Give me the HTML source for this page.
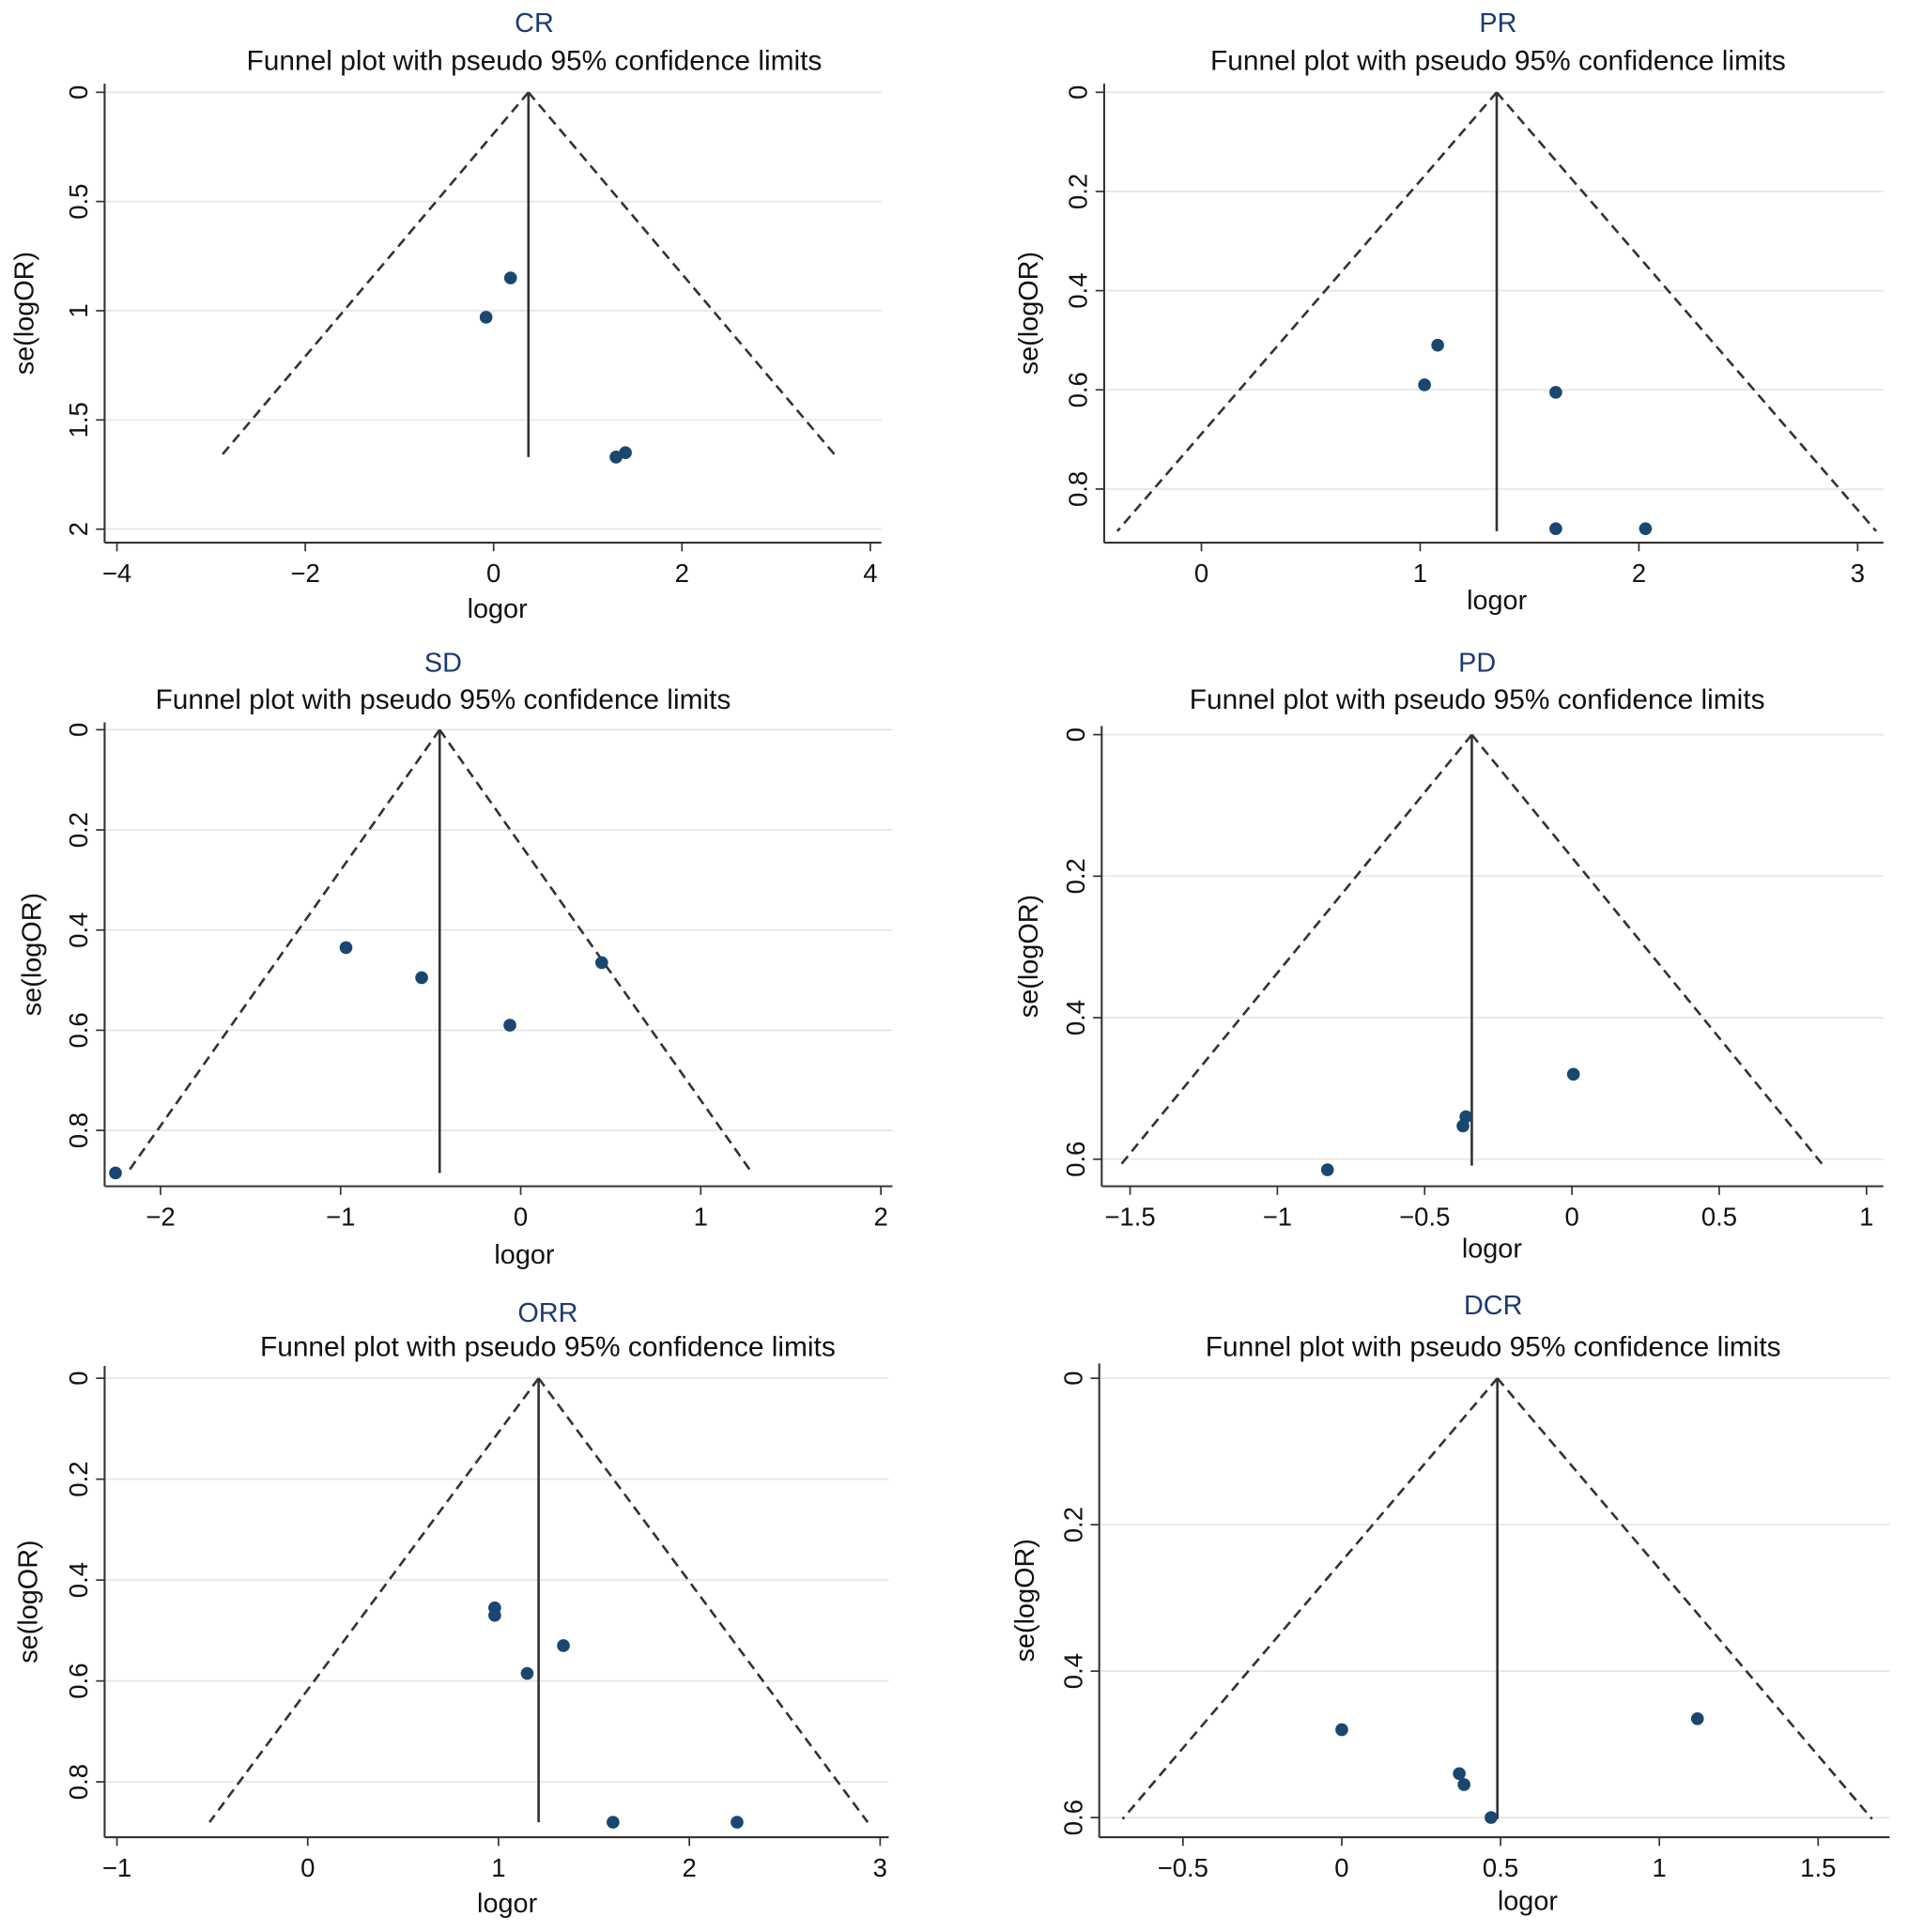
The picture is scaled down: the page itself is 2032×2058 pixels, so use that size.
<!DOCTYPE html>
<html><head><meta charset="utf-8"><style>
html,body{margin:0;padding:0;background:#fff;width:2032px;height:2058px;overflow:hidden}
svg{display:block}
text{font-family:"Liberation Sans",Arial,sans-serif;fill:#111}
</style></head><body>
<svg id="chart" width="2032" height="2058" viewBox="0 0 1550 1570" preserveAspectRatio="none" xmlns="http://www.w3.org/2000/svg"></svg>
<script>
// ---- data ----
const crLogor=[0.18,-0.08,1.30,1.40];
const crSe=[0.85,1.03,1.67,1.65];
const crCenter=0.37, crSeMax=1.67;
const crXTicks=[-4,-2,0,2,4], crYTicks=[0,0.5,1,1.5,2];
const crYLabels=["0","0.5","1","1.5","2"];

const prLogor=[1.08,1.02,1.62,1.62,2.03];
const prSe=[0.51,0.59,0.605,0.88,0.88];
const prCenter=1.35, prSeMax=0.885;
const prXTicks=[0,1,2,3], prYTicks=[0,0.2,0.4,0.6,0.8];
const prYLabels=["0","0.2","0.4","0.6","0.8"];

const sdLogor=[-2.25,-0.97,-0.55,0.45,-0.06];
const sdSe=[0.885,0.435,0.495,0.465,0.59];
const sdCenter=-0.45, sdSeMax=0.885;
const sdXTicks=[-2,-1,0,1,2], sdYTicks=[0,0.2,0.4,0.6,0.8];
const sdYLabels=["0","0.2","0.4","0.6","0.8"];

const pdLogor=[0.005,-0.36,-0.37,-0.83];
const pdSe=[0.48,0.54,0.553,0.615];
const pdCenter=-0.34, pdSeMax=0.609;
const pdXTicks=[-1.5,-1,-0.5,0,0.5,1], pdYTicks=[0,0.2,0.4,0.6];
const pdYLabels=["0","0.2","0.4","0.6"];

const orrLogor=[0.98,0.98,1.34,1.15,1.60,2.25];
const orrSe=[0.455,0.47,0.53,0.585,0.88,0.88];
const orrCenter=1.21, orrSeMax=0.88;
const orrXTicks=[-1,0,1,2,3], orrYTicks=[0,0.2,0.4,0.6,0.8];
const orrYLabels=["0","0.2","0.4","0.6","0.8"];

const dcrLogor=[0,1.12,0.37,0.385,0.47];
const dcrSe=[0.48,0.465,0.54,0.555,0.60];
const dcrCenter=0.49, dcrSeMax=0.602;
const dcrXTicks=[-0.5,0,0.5,1,1.5], dcrYTicks=[0,0.2,0.4,0.6];
const dcrYLabels=["0","0.2","0.4","0.6"];

// ---- layout (display coords) ----
const panels=[
 {id:"cr",title:"CR",xs:crLogor,ys:crSe,c:crCenter,sm:crSeMax,xt:crXTicks,yt:crYTicks,yl:crYLabels,
  ax:85,axTop:68,ay:441,axRight:716,x0v:0,x0p:401,xu:76.5,y0p:75,yu:177.5,titleX:434,titleY:26,subY:57,labX:404,labY:502,ylabX:27},
 {id:"pr",title:"PR",xs:prLogor,ys:prSe,c:prCenter,sm:prSeMax,xt:prXTicks,yt:prYTicks,yl:prYLabels,
  ax:897,axTop:68,ay:441,axRight:1530,x0v:0,x0p:976,xu:177.7,y0p:75,yu:403,titleX:1217,titleY:26,subY:57,labX:1216,labY:495,ylabX:843},
 {id:"sd",title:"SD",xs:sdLogor,ys:sdSe,c:sdCenter,sm:sdSeMax,xt:sdXTicks,yt:sdYTicks,yl:sdYLabels,
  ax:85,axTop:587,ay:964,axRight:725,x0v:0,x0p:423,xu:146.3,y0p:593,yu:407,titleX:360,titleY:546,subY:576,labX:426,labY:1027,ylabX:33},
 {id:"pd",title:"PD",xs:pdLogor,ys:pdSe,c:pdCenter,sm:pdSeMax,xt:pdXTicks,yt:pdYTicks,yl:pdYLabels,
  ax:895,axTop:590,ay:964,axRight:1530,x0v:0,x0p:1277,xu:239.3,y0p:597,yu:575,titleX:1200,titleY:546,subY:576,labX:1212,labY:1022,ylabX:843},
 {id:"orr",title:"ORR",xs:orrLogor,ys:orrSe,c:orrCenter,sm:orrSeMax,xt:orrXTicks,yt:orrYTicks,yl:orrYLabels,
  ax:85,axTop:1110,ay:1493,axRight:722,x0v:0,x0p:250,xu:155,y0p:1120,yu:410,titleX:445,titleY:1074,subY:1102,labX:412,labY:1554,ylabX:30},
 {id:"dcr",title:"DCR",xs:dcrLogor,ys:dcrSe,c:dcrCenter,sm:dcrSeMax,xt:dcrXTicks,yt:dcrYTicks,yl:dcrYLabels,
  ax:893,axTop:1108,ay:1493,axRight:1535,x0v:0,x0p:1090,xu:258,y0p:1120,yu:595,titleX:1213,titleY:1068,subY:1102,labX:1241,labY:1552,ylabX:840}
];
const svg=document.getElementById('chart');
const NS="http://www.w3.org/2000/svg";
function mk(tag,attrs,parent){const e=document.createElementNS(NS,tag);for(const k in attrs)e.setAttribute(k,attrs[k]);parent.appendChild(e);return e;}
function fmt(v){return (v<0?"\u2212":"")+Math.abs(v);}

panels.forEach(p=>{
  const X=v=>p.x0p+(v-p.x0v)*p.xu;
  const Y=v=>p.y0p+v*p.yu;
  const g=mk('g',{},svg);
  
  
  p.yt.forEach(t=>{
    const l=mk('line',{x1:p.ax+1,x2:p.axRight,y1:Y(t),y2:Y(t),stroke:'#e6e6e6','stroke-width':1.3},g);
    
    
  });
  const ya=mk('line',{x1:p.ax,x2:p.ax,y1:p.axTop,y2:p.ay,stroke:'#333','stroke-width':1.6},g);
  
  
  const xa=mk('line',{x1:p.ax,x2:p.axRight,y1:p.ay,y2:p.ay,stroke:'#333','stroke-width':1.6},g);
  
  
  p.yt.forEach((t,i)=>{
    mk('line',{x1:p.ax-7,x2:p.ax,y1:Y(t),y2:Y(t),stroke:'#333','stroke-width':1.3},g);
    const tx=mk('text',{x:0,y:0,transform:`translate(${p.ax-14},${Y(t)}) rotate(-90)`,'text-anchor':'middle','font-size':21},g);
    tx.textContent=p.yl[i];
    
    
  });
  p.xt.forEach(t=>{
    mk('line',{x1:X(t),x2:X(t),y1:p.ay,y2:p.ay+7,stroke:'#333','stroke-width':1.3},g);
    const tx=mk('text',{x:X(t),y:p.ay+32,'text-anchor':'middle','font-size':21},g);
    tx.textContent=fmt(t);
    
    
  });
  const yb=Y(p.sm);
  const f1=mk('line',{x1:X(p.c),y1:Y(0),x2:X(p.c-1.96*p.sm),y2:yb,stroke:'#333','stroke-width':2,'stroke-dasharray':'8,5'},g);
  
  
  const f2=mk('line',{x1:X(p.c),y1:Y(0),x2:X(p.c+1.96*p.sm),y2:yb,stroke:'#333','stroke-width':2,'stroke-dasharray':'8,5'},g);
  
  
  const cl=mk('line',{x1:X(p.c),y1:Y(0),x2:X(p.c),y2:yb,stroke:'#333','stroke-width':2},g);
  
  
  p.xs.forEach((v,i)=>{
    const c=mk('circle',{cx:X(v),cy:Y(p.ys[i]),r:5.2,fill:'#1a476f'},g);
    
    
  });
  const t=mk('text',{x:p.titleX,y:p.titleY,'text-anchor':'middle','font-size':22,style:'fill:#1e3a6e'},g);
  t.textContent=p.title;
  
  
  const s=mk('text',{x:p.titleX,y:p.subY,'text-anchor':'middle','font-size':22.8},g);
  s.textContent="Funnel plot with pseudo 95% confidence limits";
  
  
  const xl=mk('text',{x:p.labX,y:p.labY,'text-anchor':'middle','font-size':22},g);
  xl.textContent="logor";
  
  
  const ymid=(p.axTop+p.ay)/2;
  const yl=mk('text',{x:0,y:0,transform:`translate(${p.ylabX},${ymid}) rotate(-90)`,'text-anchor':'middle','font-size':22},g);
  yl.textContent="se(logOR)";
  
  
});
</script>
</body></html>
